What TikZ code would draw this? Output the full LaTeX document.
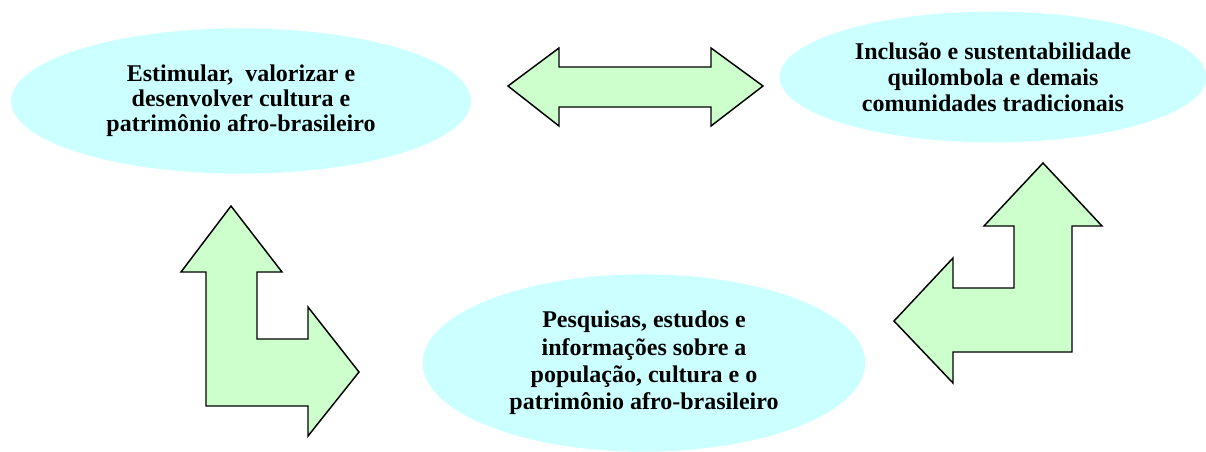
\documentclass[tikz,border=0pt]{standalone}
\usepackage{fontspec}
\setmainfont{Liberation Serif}
\usetikzlibrary{shapes.geometric}
\definecolor{ellfill}{HTML}{CCFFFF}
\definecolor{arrfill}{HTML}{CCFFCC}
\tikzset{
  bubble/.style={ellipse, fill=ellfill, draw=none, inner sep=0pt, align=center,
    font=\fontsize{18}{19.5}\selectfont\bfseries},
  blockarrow/.style={draw=black, fill=arrfill, line width=1.1pt, line join=miter}
}
\begin{document}
\begin{tikzpicture}[x=0.75pt,y=-0.75pt]
\useasboundingbox (0,0) rectangle (1206,451);
% ellipses
\node[bubble, minimum width=345pt, minimum height=109pt,
  font=\fontsize{18}{18.75}\selectfont\bfseries] (e1) at (241,101)
  {Estimular,\ \ valorizar e\\desenvolver cultura e\\patrimônio afro-brasileiro};
\node[bubble, minimum width=320pt, minimum height=98pt] (e2) at (993,77)
  {Inclusão e sustentabilidade\\quilombola e demais\\comunidades tradicionais};
\node[bubble, minimum width=332pt, minimum height=133pt,
  font=\fontsize{18}{20.5}\selectfont\bfseries] (e3) at (644,363)
  {Pesquisas, estudos e\\informações sobre a\\população, cultura e o\\patrimônio afro-brasileiro};
% double arrow
\draw[blockarrow] (508,86) -- (559,48) -- (559,67) -- (711,67) -- (711,48) -- (763,86)
  -- (711,126) -- (711,107) -- (559,107) -- (559,126) -- cycle;
% left L arrow
\draw[blockarrow] (231,206) -- (282,272) -- (257,272) -- (257,339) -- (308,339) -- (308,307)
  -- (359,372) -- (308,436) -- (308,406) -- (206,406) -- (206,272) -- (181,272) -- cycle;
% right L arrow
\draw[blockarrow] (1043,163) -- (1102,226) -- (1072,226) -- (1072,352) -- (953,352) -- (953,383)
  -- (894,321) -- (953,258) -- (953,288) -- (1014,288) -- (1014,226) -- (984,226) -- cycle;
\end{tikzpicture}
\end{document}
